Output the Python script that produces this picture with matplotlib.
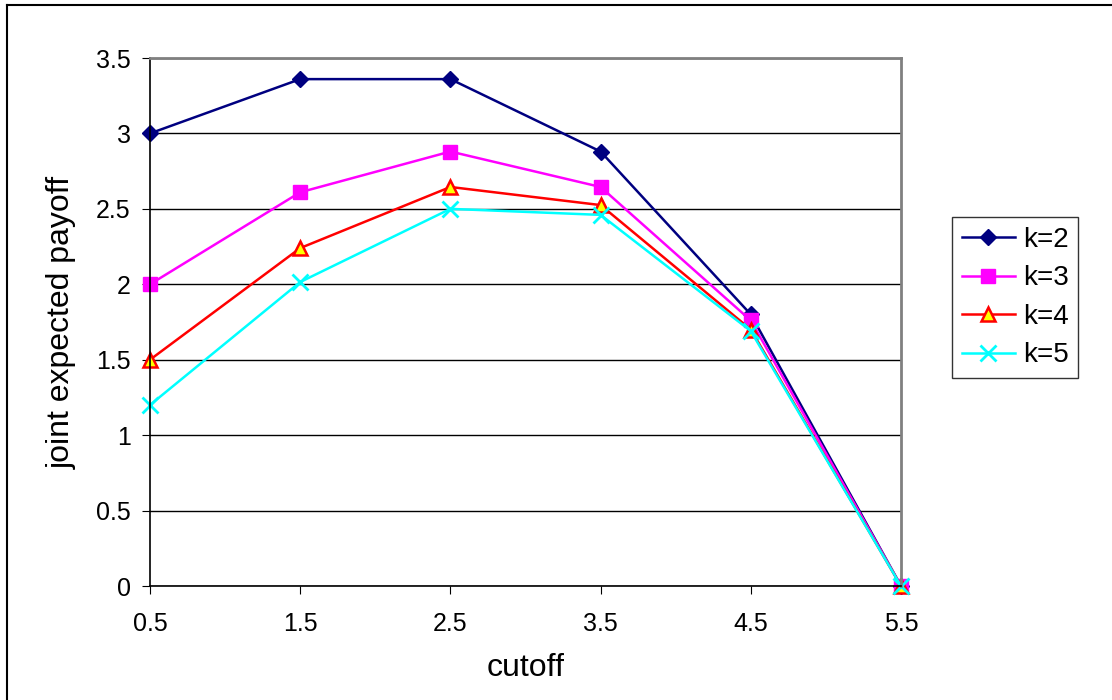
import matplotlib
matplotlib.use("Agg")
import matplotlib.pyplot as plt
from matplotlib.lines import Line2D

plt.rcParams["font.family"] = ["Liberation Sans", "DejaVu Sans"]

# datos
cutoff = [0.5, 1.5, 2.5, 3.5, 4.5, 5.5]
k2 = [3.00, 3.36, 3.36, 2.88, 1.80, 0.0]
k3 = [2.00, 2.61, 2.88, 2.645, 1.76, 0.0]
k4 = [1.50, 2.24, 2.645, 2.525, 1.70, 0.0]
k5 = [1.20, 2.015, 2.50, 2.46, 1.69, 0.0]
etiquetas = ["k=2", "k=3", "k=4", "k=5"]

fig = plt.figure(figsize=(11.12, 7), dpi=100)
ax = fig.add_axes([150 / 1112, 1 - 586 / 700, 751 / 1112, 528 / 700])

ax.plot(cutoff, k2, color="#000080", marker="D", markersize=8, linewidth=1.8, label=etiquetas[0])
ax.plot(cutoff, k3, color="#FF00FF", marker="s", markersize=10, linewidth=1.8, label=etiquetas[1])
ax.plot(cutoff, k4, color="#FF0000", marker="^", markersize=10, markerfacecolor="#FFFF00",
        markeredgecolor="#FF0000", markeredgewidth=1.8, linewidth=1.8, label=etiquetas[2])
ax.plot(cutoff, k5, color="#00FFFF", marker="x", markersize=11, markeredgewidth=2,
        linewidth=1.8, label=etiquetas[3])

ax.set_xlim(0.5, 5.5)
ax.set_ylim(0, 3.5)
ax.set_xticks(cutoff)
ax.set_xticklabels(["0.5", "1.5", "2.5", "3.5", "4.5", "5.5"])
ax.set_yticks([0, 0.5, 1, 1.5, 2, 2.5, 3, 3.5])
ax.set_yticklabels(["0", "0.5", "1", "1.5", "2", "2.5", "3", "3.5"])
ax.yaxis.grid(True, color="black", linewidth=1)
ax.set_axisbelow(True)
for lado in ["top", "right"]:
    ax.spines[lado].set_color("#808080")
    ax.spines[lado].set_linewidth(2)
for lado in ["left", "bottom"]:
    ax.spines[lado].set_color("black")
    ax.spines[lado].set_linewidth(1.2)
ax.tick_params(labelsize=18, length=6, direction="out")
ax.tick_params(axis="y", pad=8)
ax.tick_params(axis="x", pad=13)
for m in ax.lines:
    m.set_clip_on(False)

ax.set_xlabel("cutoff", fontsize=23, labelpad=12)
ax.set_ylabel("joint expected payoff", fontsize=23, labelpad=14)

leg = ax.legend(loc="upper left", bbox_to_anchor=(952 / 1112, 1 - 217 / 700),
                bbox_transform=fig.transFigure, borderaxespad=0, fontsize=20, frameon=True,
                fancybox=False, handlelength=1.9, handletextpad=0.3, labelspacing=0.45,
                borderpad=0.35)
leg.get_frame().set_edgecolor("black")
leg.get_frame().set_linewidth(1)

# borde exterior del grafico
fig.add_artist(Line2D([7 / 1112, 7 / 1112], [0, 1 - 5 / 700], transform=fig.transFigure, color="black", linewidth=1.5))
fig.add_artist(Line2D([7 / 1112, 1], [1 - 5 / 700, 1 - 5 / 700], transform=fig.transFigure, color="black", linewidth=1.5))

fig.savefig("out.png", dpi=100)
